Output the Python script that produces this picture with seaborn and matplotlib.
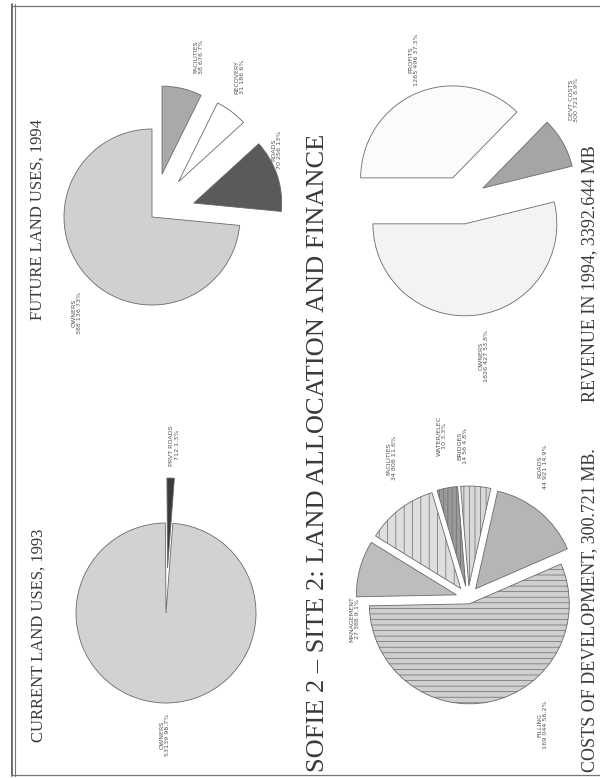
import numpy as np
import matplotlib
matplotlib.use("Agg")
import matplotlib.pyplot as plt
import seaborn as sns

sns.set_theme(style="white")
plt.rcParams["font.family"] = ["Liberation Serif", "DejaVu Serif"]
plt.rcParams["hatch.linewidth"] = 0.5

# current land uses, 1993
cur_labels = ["OWNERS", "PRVT ROADS"]
cur_values = [53139, 712]

# future land uses, 1994
fut_labels = ["OWNERS", "ROADS", "RECOVERY", "FACILITIES"]
fut_values = [388136, 70256, 31186, 38676]

# revenue in 1994 (thousand MB)
rev_labels = ["OWNERS", "DEVT COSTS", "PROFITS"]
rev_values = [1826427, 300721, 1265496]

# costs of development (thousand MB)
cost_labels = ["ROADS", "BRIDGES", "WATER/ELEC", "FACILITIES", "MANAGEMENT", "FILLING"]
cost_values = [44921, 14560, 10000, 34808, 27388, 169044]

W, H = 600, 778
fig = plt.figure(figsize=(6, 7.78), dpi=100)
ax = fig.add_axes([0, 0, 1, 1])
ink = "#3a3a3a"


def fmt_plain(v):
    return str(v)


def fmt_spaced(v):
    return f"{v / 1000:.3f}".rstrip("0").rstrip(".").replace(".", " ")


def draw_pie(values, labels, cx, cy, r, start, explode, colors, hatches, lpos, fmt, dec):
    # cx, cy are in picture coordinates (y downwards)
    wedges, _ = ax.pie(values, center=(cx, H - cy), radius=r, startangle=start,
                       explode=explode, colors=colors, frame=True,
                       wedgeprops=dict(edgecolor="#6a6a6a", linewidth=0.6))
    total = sum(values)
    for w, h, lab, v, (dist, da) in zip(wedges, hatches, labels, values, lpos):
        if h:
            w.set_hatch(h)
        mid = np.deg2rad((w.theta1 + w.theta2) / 2 + da)
        pct = 100 * v / total
        txt = f"{lab}\n{fmt(v)} {pct:.{dec}f}%"
        ax.text(cx + dist * np.cos(mid), H - cy + dist * np.sin(mid), txt,
                rotation=90, ha="center", va="center", fontsize=4.6,
                color="#555555", family="DejaVu Sans", linespacing=1.15)


draw_pie(cur_values, cur_labels, 166, 613, 90, 90.4, [0, 45],
         ["#d2d2d2", "#3a3a3a"], [None, None],
         [(122, 1.5), (168, -1)], fmt_plain, 1)

draw_pie(fut_values, fut_labels, 152, 217, 88, 90, [0, 44, 44, 44],
         ["#d0d0d0", "#5a5a5a", "#ffffff", "#a9a9a9"], [None, None, None, None],
         [(122, 9.6), (142, 10), (165, 5), (167, -3)], fmt_spaced, 0)

draw_pie(rev_values, rev_labels, 462, 200, 92, 180, [24, 24, 24],
         ["#f3f3f3", "#a5a5a5", "#fbfbfb"], [None, None, None],
         [(157, 1), (150, 12), (148, -4)], fmt_spaced, 1)

draw_pie(cost_values, cost_labels, 468, 598, 100, 23.5, [12, 12, 12, 12, 12, 6],
         ["#b5b5b5", "#d8d8d8", "#9a9a9a", "#dedede", "#bdbdbd", "#cfcfcf"],
         [None, "|||", "||||", "||", None, "---"],
         [(151, 10), (152, 6), (164, -1.4), (159, -9), (115, 26), (147, 18)],
         fmt_spaced, 1)

# titles (page is turned a quarter, so text runs upwards)
ax.text(39, H - 742, "CURRENT LAND USES, 1993", rotation=90, ha="center", va="bottom",
        fontsize=12, color=ink)
ax.text(38, H - 320, "FUTURE LAND USES, 1994", rotation=90, ha="center", va="bottom",
        fontsize=12, color=ink)
ax.text(318, H - 772, "SOFIE 2 \u2013 SITE 2: LAND ALLOCATION AND FINANCE", rotation=90,
        ha="center", va="bottom", fontsize=19, color=ink)
ax.text(590, H - 772, f"COSTS OF DEVELOPMENT, {sum(cost_values) / 1000:.3f} MB.",
        rotation=90, ha="center", va="bottom", fontsize=13, color=ink)
ax.text(590, H - 402, f"REVENUE IN 1994, {sum(rev_values) / 1000:.3f} MB",
        rotation=90, ha="center", va="bottom", fontsize=13, color=ink)

# page border
ax.plot([12, 12], [H - 4, H - 776], color="#555555", lw=1.2)
ax.plot([15, 15], [H - 4, H - 776], color="#777777", lw=0.8)
ax.plot([12, 600], [H - 6, H - 6], color="#777777", lw=0.9)
ax.plot([12, 600], [H - 775, H - 775], color="#777777", lw=0.9)

ax.set_xlim(0, W)
ax.set_ylim(0, H)
ax.set_axis_off()
fig.savefig("out.png", dpi=100, facecolor="white")
